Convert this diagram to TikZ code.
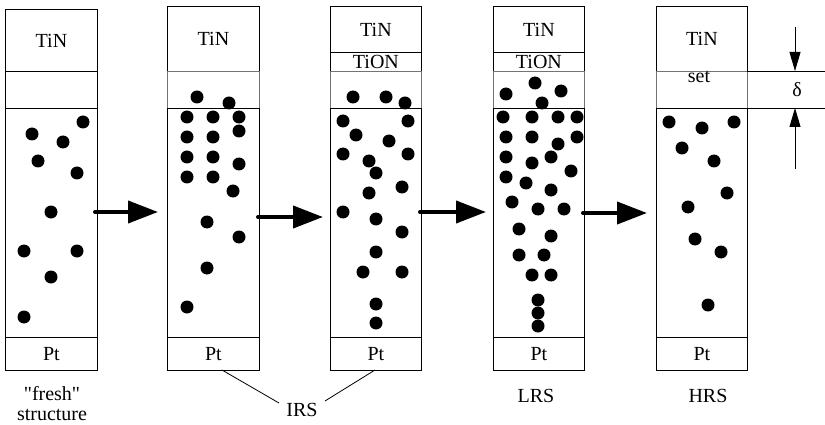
\documentclass[tikz,border=0pt]{standalone}
\usepackage{fontspec}
\setmainfont{Liberation Serif}
\newfontfamily\plainserif{Liberation Serif}
\usetikzlibrary{arrows.meta}
\begin{document}
\begin{tikzpicture}[x=1pt,y=-1pt,
  layer/.style={draw=black,line width=0.9pt,rectangle,inner sep=0pt,anchor=north west,font=\fontsize{20}{22}\selectfont},
  gaplayer/.style={draw=black!55,line width=0.9pt,rectangle,inner sep=0pt,anchor=north west},
  lbl/.style={font=\fontsize{20}{22}\selectfont,inner sep=0pt},
  dot/.style={fill=black},
  bigarrow/.style={line width=4pt,line cap=round,-{Triangle[length=30pt,width=22pt]}},
  dimarrow/.style={line width=0.8pt,-{Triangle[length=19pt,width=11pt]}},
  thin/.style={line width=0.8pt}]
\useasboundingbox (0,0) rectangle (825,425);

% ---------- column 1: fresh
\node[layer,minimum width=92pt,minimum height=62pt] (tin1) at (5,9) {\raisebox{-1pt}{TiN}};
\node[layer,minimum width=92pt,minimum height=37pt] (gap1) at (5,71) {};
\node[layer,minimum width=92pt,minimum height=229pt] (ox1) at (5,108) {};
\node[layer,minimum width=92pt,minimum height=33pt] (pt1) at (5,337) {\raisebox{-3pt}{Pt}};
\foreach \x/\y in {83/122,32/134,63/142,38/161,77/173,51/212,24/251,77/251,51/277,24/317}
  \fill[dot] (\x,\y) circle (6.5pt);

% ---------- column 2: IRS
\node[layer,minimum width=92pt,minimum height=65pt] (tin2) at (167,6) {\raisebox{-1pt}{TiN}};
\node[gaplayer,minimum width=92pt,minimum height=37pt] (gap2) at (167,71) {};
\node[layer,minimum width=92pt,minimum height=229pt] (ox2) at (167,108) {};
\node[layer,minimum width=92pt,minimum height=33pt] (pt2) at (167,337) {\raisebox{-3pt}{Pt}};
\foreach \x/\y in {197/97,229/103,187/117,213/117,239/117,239/131,187/137,213/137,187/157,213/157,239/164,187/177,213/177,233/191,207/222,239/237,207/268,187/307}
  \fill[dot] (\x,\y) circle (6.5pt);

% ---------- column 3: IRS with TiON
\node[layer,minimum width=91pt,minimum height=46pt] (tin3) at (330,6) {\raisebox{-3pt}{TiN}};
\node[layer,minimum width=91pt,minimum height=19pt] (tion3) at (330,52) {\raisebox{-2pt}{TiON}};
\node[gaplayer,minimum width=91pt,minimum height=37pt] (gap3) at (330,71) {};
\node[layer,minimum width=91pt,minimum height=229pt] (ox3) at (330,108) {};
\node[layer,minimum width=91pt,minimum height=33pt] (pt3) at (330,337) {\raisebox{-3pt}{Pt}};
\foreach \x/\y in {353/97,386/97,405/103,343/121,408/121,356/135,389/141,343/154,408/154,369/161,376/173,402/187,369/193,343/212,376/219,402/232,376/252,363/272,402/272,376/304,376/323}
  \fill[dot] (\x,\y) circle (6.5pt);

% ---------- column 4: LRS
\node[layer,minimum width=91pt,minimum height=46pt] (tin4) at (493,6) {\raisebox{-3pt}{TiN}};
\node[layer,minimum width=91pt,minimum height=19pt] (tion4) at (493,52) {\raisebox{-2pt}{TiON}};
\node[gaplayer,minimum width=91pt,minimum height=37pt] (gap4) at (493,71) {};
\node[layer,minimum width=91pt,minimum height=229pt] (ox4) at (493,108) {};
\node[layer,minimum width=91pt,minimum height=33pt] (pt4) at (493,337) {\raisebox{-3pt}{Pt}};
\foreach \x/\y in {535/83,506/94,561/91,542/103,503/117,532/117,558/117,577/117,506/137,532/137,558/144,577/137,506/157,551/157,532/163,571/171,506/177,526/183,551/190,512/202,538/209,564/209,519/229,551/236,519/255,544/255,532/275,551/275,538/300,538/313,538/326}
  \fill[dot] (\x,\y) circle (6.5pt);

% ---------- column 5: HRS
\node[layer,minimum width=91pt,minimum height=65pt] (tin5) at (656,6) {\raisebox{-1pt}{TiN}};
\node[gaplayer,minimum width=91pt,minimum height=37pt] (gap5) at (656,71) {};
\node[layer,minimum width=91pt,minimum height=229pt] (ox5) at (656,108) {};
\node[layer,minimum width=91pt,minimum height=33pt] (pt5) at (656,337) {\raisebox{-3pt}{Pt}};
\foreach \x/\y in {669/122,702/128,734/122,682/148,714/161,727/193,688/207,695/239,721/252,708/305}
  \fill[dot] (\x,\y) circle (6.5pt);
\node[lbl,anchor=base] (set) at (699,83) {set};

% ---------- transition arrows
\coordinate (a1s) at (95,212);  \coordinate (a1e) at (158,212);
\coordinate (a2s) at (258,217); \coordinate (a2e) at (323,217);
\coordinate (a3s) at (420,212); \coordinate (a3e) at (486,212);
\coordinate (a4s) at (583,213); \coordinate (a4e) at (647,213);
\draw[bigarrow] (a1s) -- (a1e);
\draw[bigarrow] (a2s) -- (a2e);
\draw[bigarrow] (a3s) -- (a3e);
\draw[bigarrow] (a4s) -- (a4e);

% ---------- delta dimension
\coordinate (d1a) at (747,71);  \coordinate (d1b) at (825,71);
\coordinate (d2a) at (747,108); \coordinate (d2b) at (825,108);
\draw[thin] (d1a) -- (d1b);
\draw[thin] (d2a) -- (d2b);
\coordinate (u0) at (795,27); \coordinate (u1) at (795,71);
\coordinate (l0) at (795,169); \coordinate (l1) at (795,108);
\draw[dimarrow] (u0) -- (u1);
\draw[dimarrow] (l0) -- (l1);
\node[lbl] (delta) at (797,90) {δ};

% ---------- labels
\node[lbl,anchor=base,align=center] (fresh) at (52,420) {{\plainserif "fresh"}\\[-2pt]structure};
\node[lbl,anchor=base] (irs) at (302,416) {IRS};
\node[lbl,anchor=base] (lrs) at (536,402) {LRS};
\node[lbl,anchor=base] (hrs) at (708,402) {HRS};
\coordinate (p2b) at (222,370);
\coordinate (p3b) at (375,370);
\coordinate (irsL) at (279,403);
\coordinate (irsR) at (325,401);
\draw[thin] (p2b) -- (irsL);
\draw[thin] (p3b) -- (irsR);
\end{tikzpicture}
\end{document}
